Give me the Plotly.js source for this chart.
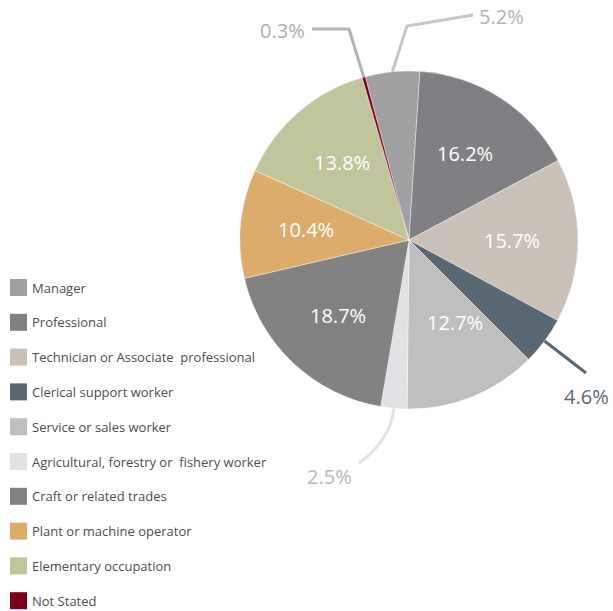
<!DOCTYPE html>
<html>
<head>
<meta charset="utf-8">
<script src="https://cdn.plot.ly/plotly-3.0.1.min.js"></script>
<style>html,body{margin:0;padding:0;background:#fff;}#chart{width:613px;height:611px;}</style>
</head>
<body>
<div id="chart"></div>
<script>
// ---- data ----
var categories = ["Manager", "Professional", "Technician or Associate\u00a0 professional", "Clerical support worker",
  "Service or sales worker", "Agricultural, forestry or\u00a0 fishery worker", "Craft or related trades",
  "Plant or machine operator", "Elementary occupation", "Not Stated"];
var shares = [5.2, 16.2, 15.7, 4.6, 12.7, 2.5, 18.7, 10.4, 13.8, 0.3];
var valueLabels = ["5.2%", "16.2%", "15.7%", "4.6%", "12.7%", "2.5%", "18.7%", "10.4%", "13.8%", "0.3%"];

// ---- styles ----
var colors = ["#a09fa2", "#808084", "#c9c1b8", "#5a6873", "#bebebf", "#e1e1e5", "#828282", "#dcac6a", "#bfc49b", "#7a0019"];
var W = 613, H = 611;
var CX = 409, CY = 240, R = 169;
var ROT = -15;
var FONT = "Open Sans, Noto Sans, sans-serif";
// inside label placement tweaks: index -> [radius factor, angle shift in degrees]
var insideTweak = {4: [0.56, -7]};
// outside label styling: index -> connector path offsets (px, relative to slice edge point)
var outside = {
  9: {pts: [[-14.7, -48.2], [-51.7, -48.2]], label: [-57, -47], anchor: "right", line: "#b3b3b3", text: "#adadad"},
  0: {pts: [[14.6, -45.8], [80.6, -56.8]], label: [85, -55], anchor: "left", line: "#c6c6c6", text: "#b3b3b3"},
  3: {pts: [[41.5, 32]], label: [41.5, 56], anchor: "center", line: "#5a6873", text: "#5a6873"},
  5: {curve: [[-2.5, 30.5], [-35, 55]], label: [-64, 68], anchor: "center", line: "#e3e3e6", text: "#b8b8b8"}
};

function px2x(px) { return px / W; }
function py2y(py) { return 1 - py / H; }

var total = shares.reduce(function (a, b) { return a + b; }, 0);
var annotations = [], shapes = [];
var cum = 0;
shares.forEach(function (v, i) {
  var midDeg = ROT + (cum + v / 2) / total * 360;
  var mid = midDeg * Math.PI / 180;
  cum += v;
  var o = outside[i];
  if (o) {
    var ex = CX + R * Math.sin(mid), ey = CY - R * Math.cos(mid);
    var path;
    if (o.curve) {
      path = "M" + px2x(ex) + "," + py2y(ey) + " Q" + px2x(ex + o.curve[0][0]) + "," + py2y(ey + o.curve[0][1]) +
        " " + px2x(ex + o.curve[1][0]) + "," + py2y(ey + o.curve[1][1]);
    } else {
      path = "M" + px2x(ex) + "," + py2y(ey);
      o.pts.forEach(function (p) { path += " L" + px2x(ex + p[0]) + "," + py2y(ey + p[1]); });
    }
    shapes.push({type: "path", xref: "paper", yref: "paper", path: path, line: {color: o.line, width: 3}, layer: "above"});
    annotations.push({xref: "paper", yref: "paper", x: px2x(ex + o.label[0]), y: py2y(ey + o.label[1]),
      text: valueLabels[i], showarrow: false, xanchor: o.anchor, yanchor: "middle",
      font: {family: FONT, size: 20, color: o.text}});
  } else {
    var tw = insideTweak[i] || [0.61, 0];
    var rr = tw[0] * R, a = (midDeg + tw[1]) * Math.PI / 180;
    annotations.push({xref: "paper", yref: "paper", x: px2x(CX + rr * Math.sin(a)), y: py2y(CY - rr * Math.cos(a)),
      text: valueLabels[i], showarrow: false, xanchor: "center", yanchor: "middle",
      font: {family: FONT, size: 20, color: "#ffffff"}});
  }
});

// legend built from categories
var LEG_TOP = 287.5, LEG_STEP = 34.8;
categories.forEach(function (c, i) {
  var yc = LEG_TOP + i * LEG_STEP;
  shapes.push({type: "rect", xref: "paper", yref: "paper", x0: px2x(10), x1: px2x(27), y0: py2y(yc - 8.5), y1: py2y(yc + 8.5),
    fillcolor: colors[i], line: {width: 0}});
  annotations.push({xref: "paper", yref: "paper", x: px2x(30), y: py2y(yc), text: c, showarrow: false,
    xanchor: "left", yanchor: "middle", font: {family: FONT, size: 13, color: "#4d4d4d"}});
});

var trace = {
  type: "pie",
  labels: categories,
  values: shares,
  sort: false,
  direction: "clockwise",
  rotation: ROT,
  textinfo: "none",
  hoverinfo: "label+percent",
  marker: {colors: colors, line: {color: "#ffffff", width: 0.4}},
  domain: {x: [(CX - R) / W, (CX + R) / W], y: [1 - (CY + R) / H, 1 - (CY - R) / H]},
  showlegend: false
};

Plotly.newPlot("chart", [trace], {
  width: W, height: H,
  margin: {l: 0, r: 0, t: 0, b: 0},
  paper_bgcolor: "#ffffff",
  showlegend: false,
  annotations: annotations,
  shapes: shapes
}, {displayModeBar: false, staticPlot: true});
</script>
</body>
</html>
